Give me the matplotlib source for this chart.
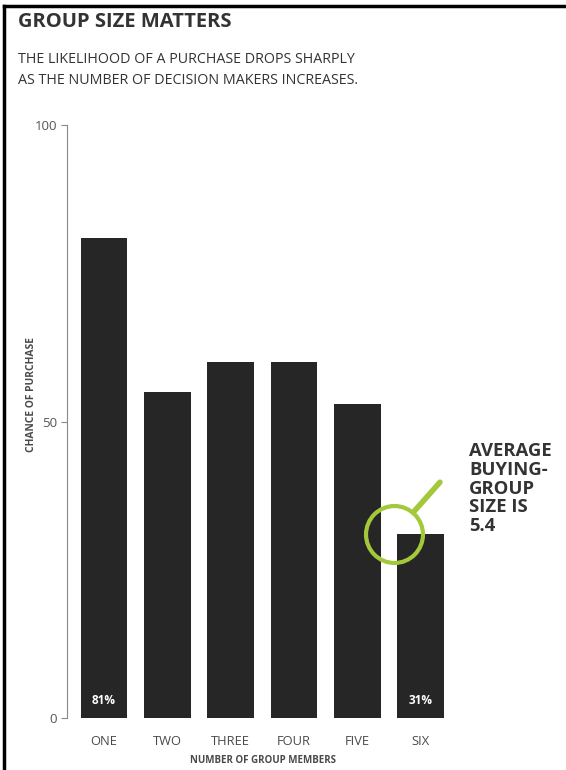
import matplotlib
matplotlib.use("Agg")
import matplotlib.pyplot as plt
from matplotlib.lines import Line2D

categories = ["ONE", "TWO", "THREE", "FOUR", "FIVE", "SIX"]
values = [81, 55, 60, 60, 53, 31]
labeled = {0: "81%", 5: "31%"}
yticks = [0, 50, 100]
average_size = 5.4

BAR = "#262626"
GREEN = "#a3c93a"
GRAY = "#4a4a4a"
FONT = "Open Sans"

fig = plt.figure(figsize=(5.66, 7.7), dpi=100)
fig.patch.set_facecolor("white")

ax = fig.add_axes([0.1184, 0.0675, 0.6917, 0.7701])
x = list(range(len(categories)))
width = 0.74
ax.bar(x, values, width=width, color=BAR, zorder=2)

for i, txt in labeled.items():
    ax.text(i, 1.8, txt, ha="center", va="bottom", color="white",
            fontsize=8.5, fontweight="bold", family=FONT)

ax.set_xlim(-0.585, 5.6)
ax.set_ylim(0, 100)
ax.set_yticks(yticks)
ax.set_yticklabels([str(t) for t in yticks], family=FONT, fontsize=9.5, color="#555555")
ax.set_xticks(x)
ax.set_xticklabels(categories, family=FONT, fontsize=9.3, color=GRAY)
ax.tick_params(axis="x", length=0, pad=12)
ax.tick_params(axis="y", length=4, width=0.8, color="#888888", pad=3)

for s in ["top", "right", "bottom"]:
    ax.spines[s].set_visible(False)
ax.spines["left"].set_color("#888888")
ax.spines["left"].set_linewidth(0.8)

ax.set_xlabel("NUMBER OF GROUP MEMBERS", family=FONT, fontsize=7, fontweight="bold",
              color=GRAY, labelpad=5)
ax.set_ylabel("CHANCE OF PURCHASE", family=FONT, fontsize=7.4, fontweight="bold",
              color=GRAY)
ax.yaxis.set_label_coords(-0.077, 0.545)

# magnifier annotation at the corner of the SIX bar
cx = x[-1] - width / 2 - 0.05
cy = values[-1]
ax.plot([cx], [cy], marker="o", markersize=41, markerfacecolor="none",
        markeredgecolor=GREEN, markeredgewidth=3.0, zorder=3, clip_on=False)
ax.annotate("", xy=(cx, cy), xytext=(46, 52), textcoords="offset pixels",
            arrowprops=dict(arrowstyle="-", color=GREEN, lw=4, shrinkA=0, shrinkB=21),
            zorder=3)

fig.text(0.829, 0.426, "AVERAGE\nBUYING-\nGROUP\nSIZE IS\n%.1f" % average_size,
         ha="left", va="top", fontsize=13.3, fontweight="bold", family=FONT,
         color="#333333", linespacing=1.06)

fig.text(0.032, 0.971, "GROUP SIZE MATTERS", ha="left", va="center",
         fontsize=14.5, fontweight="bold", family=FONT, color="#333333")
fig.text(0.032, 0.909, "THE LIKELIHOOD OF A PURCHASE DROPS SHARPLY\nAS THE NUMBER OF DECISION MAKERS INCREASES.",
         ha="left", va="center", fontsize=10.3, family=FONT, color="#333333", linespacing=1.5)

# page border (left and top)
fig.add_artist(Line2D([0.007, 0.007], [0, 0.992], transform=fig.transFigure, color="black", lw=2.5))
fig.add_artist(Line2D([0.007, 1.0], [0.992, 0.992], transform=fig.transFigure, color="black", lw=2.5))

fig.savefig("out.png", dpi=100)
